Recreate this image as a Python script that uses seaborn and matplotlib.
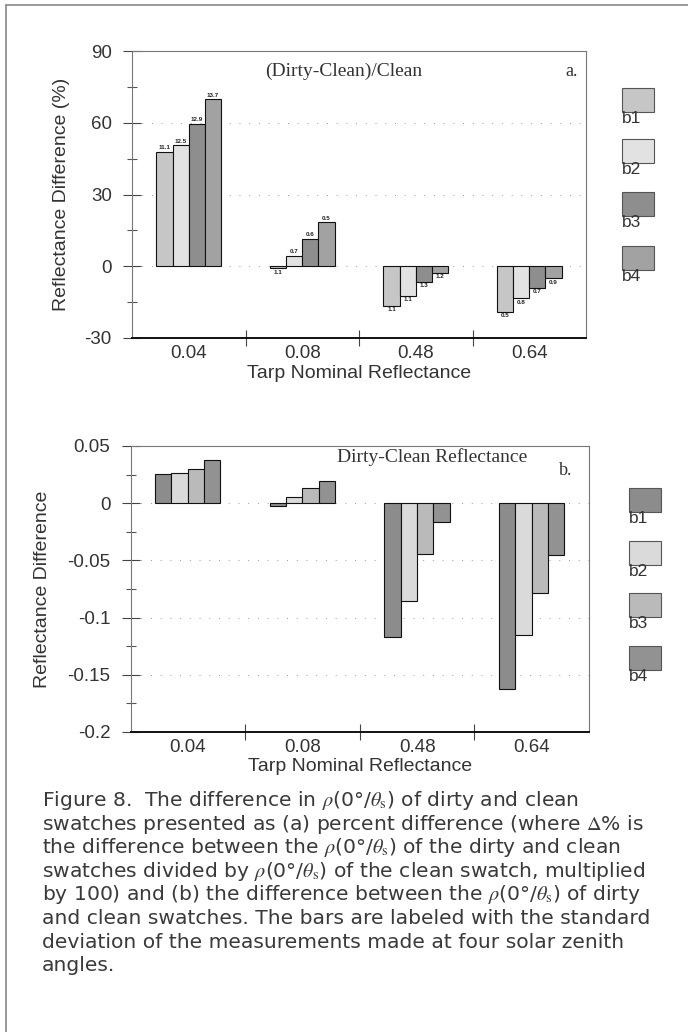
import numpy as np
import pandas as pd
import matplotlib.pyplot as plt
import seaborn as sns
from matplotlib.patches import Rectangle
from matplotlib.lines import Line2D
from matplotlib.ticker import FixedLocator, FuncFormatter

# ===== DADOS =====
tarps = ["0.04", "0.08", "0.48", "0.64"]
bands = ["b1", "b2", "b3", "b4"]

# (a) diferença percentual
pct_b1 = [47.9, -0.8, -16.6, -19.0]
pct_b2 = [50.5, 4.4, -12.3, -13.4]
pct_b3 = [59.6, 11.5, -6.6, -9.1]
pct_b4 = [69.9, 18.4, -2.8, -5.1]
# desvios padrao (rotulos das barras)
sd_b1 = ["11.1", "1.1", "1.1", "0.5"]
sd_b2 = ["12.5", "0.7", "1.1", "0.8"]
sd_b3 = ["12.9", "0.6", "1.3", "0.7"]
sd_b4 = ["13.7", "0.5", "1.2", "0.9"]

# (b) diferença de reflectancia
diff_b1 = [0.0254, -0.0023, -0.1166, -0.1627]
diff_b2 = [0.0260, 0.0058, -0.0854, -0.1152]
diff_b3 = [0.0303, 0.0137, -0.0446, -0.0787]
diff_b4 = [0.0376, 0.0195, -0.0163, -0.0452]

caption_lines = [
    r"Figure 8.  The difference in $\rho$(0°/$\theta_{\rm s}$) of dirty and clean",
    r"swatches presented as (a) percent difference (where $\mathit{\Delta}$% is",
    r"the difference between the $\rho$(0°/$\theta_{\rm s}$) of the dirty and clean",
    r"swatches divided by $\rho$(0°/$\theta_{\rm s}$) of the clean swatch, multiplied",
    r"by 100) and (b) the difference between the $\rho$(0°/$\theta_{\rm s}$) of dirty",
    r"and clean swatches. The bars are labeled with the standard",
    r"deviation of the measurements made at four solar zenith",
    r"angles.",
]

colors_a = ["#c6c6c6", "#e2e2e2", "#8e8e8e", "#a2a2a2"]
colors_b = ["#8c8c8c", "#dadada", "#bababa", "#929292"]

TXT = "#333333"
W, H = 688, 1032


def long_df(series):
    rows = []
    for band, vals in zip(bands, series):
        for t, v in zip(tarps, vals):
            rows.append({"tarp": t, "band": band, "value": v})
    return pd.DataFrame(rows)


def px_axes(left, top, right, bottom):
    return [left / W, 1 - bottom / H, (right - left) / W, (bottom - top) / H]


def style_axes(ax, ylim, major, minor, ylabel, ylabel_x):
    ax.set_ylim(*ylim)
    ax.set_xlim(-0.5, 3.5)
    ax.yaxis.set_major_locator(FixedLocator(major))
    ax.yaxis.set_minor_locator(FixedLocator(minor))
    ax.yaxis.set_major_formatter(FuncFormatter(lambda v, p: f"{v:g}"))
    ax.xaxis.set_minor_locator(FixedLocator([0.5, 1.5, 2.5]))
    ax.tick_params(axis="y", which="major", direction="inout", length=13,
                   width=0.8, pad=8, labelsize=13.5, labelcolor=TXT, color="#444")
    ax.tick_params(axis="y", which="minor", direction="inout", length=7,
                   width=0.8, color="#555")
    ax.tick_params(axis="x", which="major", length=0, pad=5,
                   labelsize=13.5, labelcolor=TXT)
    ax.tick_params(axis="x", which="minor", direction="inout", length=12,
                   width=0.8, color="#444")
    for s in ["left", "top", "right"]:
        ax.spines[s].set_visible(True)
        ax.spines[s].set_color("#777")
        ax.spines[s].set_linewidth(0.8)
    ax.spines["bottom"].set_color("#111")
    ax.spines["bottom"].set_linewidth(1.4)
    for y in major[1:-1]:
        ax.axhline(y, color="#999", lw=0.7, ls=(0, (1, 9)), zorder=0)
    ax.set_xlabel("Tarp Nominal Reflectance", fontsize=14, color=TXT)
    ax.set_ylabel(ylabel, fontsize=14, color=TXT)
    ax.yaxis.set_label_coords(ylabel_x, 0.5)
    ax.xaxis.set_label_coords(0.5, -0.122)
    ax.xaxis.label.set_va("center")


def draw_legend(fig, x0, tops, colors):
    # legenda manual: caixa com o rotulo logo abaixo
    for top, c, lab in zip(tops, colors, bands):
        fig.add_artist(Rectangle((x0 / W, 1 - (top + 24) / H), 32 / W, 24 / H,
                                 transform=fig.transFigure, facecolor=c,
                                 edgecolor="#555", lw=0.8))
        fig.text(x0 / W, 1 - (top + 23) / H, lab, fontsize=12.5, color=TXT,
                 ha="left", va="top")


sns.set_theme(style="ticks")
plt.rcParams["font.family"] = ["Liberation Sans", "DejaVu Sans"]
plt.rcParams["mathtext.fontset"] = "stix"

fig = plt.figure(figsize=(W / 100, H / 100), dpi=100)

# ===== (a) =====
ax1 = fig.add_axes(px_axes(132, 51, 586, 338))
df_a = long_df([pct_b1, pct_b2, pct_b3, pct_b4])
sns.barplot(data=df_a, x="tarp", y="value", hue="band", order=tarps,
            hue_order=bands, palette=colors_a, saturation=1, width=0.57,
            edgecolor="#111", linewidth=0.8, legend=False, ax=ax1)
for cont, labs in zip(ax1.containers, [sd_b1, sd_b2, sd_b3, sd_b4]):
    ax1.bar_label(cont, labels=labs, padding=1, fontsize=4.5,
                  fontweight="bold", color="#222")
style_axes(ax1, (-30, 90), [-30, 0, 30, 60, 90], [-15, 15, 45, 75],
           "Reflectance Difference (%)", -0.137)
ax1.text(0.466, 0.93, "(Dirty-Clean)/Clean", transform=ax1.transAxes,
         family="Liberation Serif", fontsize=14, color=TXT,
         ha="center", va="center")
ax1.text(0.969, 0.93, "a.", transform=ax1.transAxes,
         family="Liberation Serif", fontsize=13, color=TXT,
         ha="center", va="center")
draw_legend(fig, 622, [88, 139, 192, 246], colors_a)

# ===== (b) =====
ax2 = fig.add_axes(px_axes(130.5, 446, 589, 732))
df_b = long_df([diff_b1, diff_b2, diff_b3, diff_b4])
sns.barplot(data=df_b, x="tarp", y="value", hue="band", order=tarps,
            hue_order=bands, palette=colors_b, saturation=1, width=0.57,
            edgecolor="#111", linewidth=0.8, legend=False, ax=ax2)
style_axes(ax2, (-0.2, 0.05), [-0.2, -0.15, -0.1, -0.05, 0, 0.05],
           [-0.175, -0.125, -0.075, -0.025, 0.025],
           "Reflectance Difference", -0.173)
ax2.text(0.658, 0.962, "Dirty-Clean Reflectance", transform=ax2.transAxes,
         family="Liberation Serif", fontsize=14, color=TXT,
         ha="center", va="center")
ax2.text(0.95, 0.915, "b.", transform=ax2.transAxes,
         family="Liberation Serif", fontsize=13, color=TXT,
         ha="center", va="center")
draw_legend(fig, 629, [488, 541, 593, 646], colors_b)

# ===== legenda da figura =====
for i, line in enumerate(caption_lines):
    fig.text(42 / W, 1 - (806 + i * 23.6) / H, line, fontsize=14.6,
             family=["DejaVu Sans"], color="#3a3a3a", ha="left", va="baseline")

# moldura (esquerda e topo)
fx0, fy1 = 6 / W, 1 - 5 / H
for xs, ys in [([fx0, fx0], [0, fy1]), ([fx0, 1], [fy1, fy1])]:
    fig.add_artist(Line2D(xs, ys, transform=fig.transFigure,
                          color="#888", lw=1.2))

fig.savefig("out.png", dpi=100)
